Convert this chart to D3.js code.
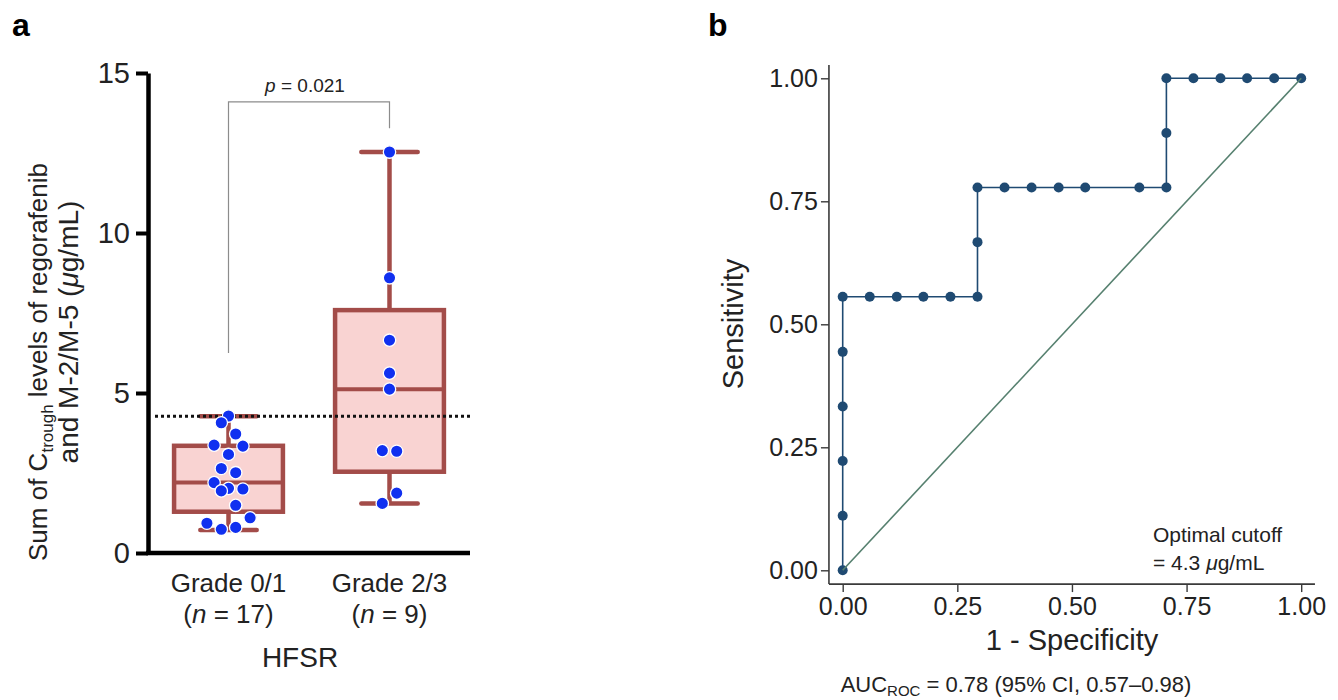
<!DOCTYPE html>
<html>
<head>
<meta charset="utf-8">
<script src="https://cdn.jsdelivr.net/npm/d3@7"></script>
<style>
  body { margin: 0; background: #fff; }
  text { font-family: "Liberation Sans", Arial, sans-serif; fill: #222; }
</style>
</head>
<body>
<script>

/////// Data ///////

// panel a : box plots of trough levels by HFSR grade
var groups = ["Grade 0/1", "Grade 2/3"];
var groupN = [17, 9];
var boxQ1 = [1.29, 2.54];
var boxMedian = [2.20, 5.12];
var boxQ3 = [3.35, 7.59];
var whiskerLow = [0.72, 1.55];
var whiskerHigh = [4.27, 12.53];
var cutoff = 4.27;

var grade01Values = [4.28, 4.07, 3.72, 3.37, 3.34, 3.08, 2.64, 2.51, 2.20, 2.02, 1.94, 2.00, 1.49, 1.10, 0.93, 0.74, 0.80];
var grade01Slots  = [0, -1, 1, -2, 2, 0, -1, 1, -2, 0, -1, 2, 1, 3, -3, -1, 1];
var grade23Values = [12.53, 8.60, 6.65, 5.62, 5.12, 3.20, 3.18, 1.87, 1.55];
var grade23Slots  = [0, 0, 0, 0, 0, -1, 1, 1, -1];

var yTicksA = [0, 5, 10, 15];
var bracketLevels = [6.25, 14.1, 13.27]; // left foot, top, right foot
var pLabel = "0.021";

// panel b : ROC curve
var fpr = [0, 0, 0, 0, 0, 0, 0.059, 0.118, 0.176, 0.235, 0.294, 0.294, 0.294,
           0.353, 0.412, 0.471, 0.529, 0.647, 0.706, 0.706, 0.706, 0.765, 0.824, 0.882, 0.941, 1];
var tpr = [0, 0.111, 0.222, 0.333, 0.444, 0.556, 0.556, 0.556, 0.556, 0.556, 0.556, 0.667, 0.778,
           0.778, 0.778, 0.778, 0.778, 0.778, 0.778, 0.889, 1, 1, 1, 1, 1, 1];
var rocTicks = [0, 0.25, 0.5, 0.75, 1];


/////// Svg ///////

var svg = d3.select("body").append("svg")
    .attr("width", 1338)
    .attr("height", 700);

var boxStroke = "#a34c49",
    boxFill = "#f9d3d2",
    dotBlue = "#1030f0",
    rocBlue = "#1f4a72",
    diagGreen = "#56806f";


/////// Panel a ///////

var xA = d3.scaleBand().domain(groups).range([148, 470]).padding(0);
var yA = d3.scaleLinear().domain([0, 15]).range([553, 73]);
var bw = xA.bandwidth();
function cx(i) { return xA(groups[i]) + bw / 2; }

svg.append("text")
    .attr("x", 12).attr("y", 36)
    .attr("font-size", "32px").attr("font-weight", "bold")
    .style("fill", "#000")
    .text("a");

// axes
var yAxisA = svg.append("g")
    .attr("transform", "translate(148,0)")
    .call(d3.axisLeft(yA).tickValues(yTicksA).tickSize(12).tickSizeOuter(0).tickPadding(6));
yAxisA.select(".domain").attr("stroke", "#000").attr("stroke-width", 4.5);
yAxisA.selectAll(".tick line").attr("stroke", "#000").attr("stroke-width", 4);
yAxisA.selectAll(".tick text").attr("font-size", "29px").attr("font-family", null).style("fill", "#222");

var xAxisA = svg.append("g")
    .attr("transform", "translate(0," + yA(0) + ")")
    .call(d3.axisBottom(xA).tickSize(0).tickSizeOuter(0).tickFormat(""));
xAxisA.select(".domain").attr("stroke", "#000").attr("stroke-width", 4.5)
    .attr("d", "M146,0H470");

// x labels
groups.forEach(function(g, i) {
    svg.append("text")
        .attr("x", cx(i)).attr("y", 592)
        .attr("text-anchor", "middle").attr("font-size", "26px")
        .text(g);
    var t = svg.append("text")
        .attr("x", cx(i)).attr("y", 623)
        .attr("text-anchor", "middle").attr("font-size", "26px");
    t.append("tspan").text("(");
    t.append("tspan").attr("font-style", "italic").text("n");
    t.append("tspan").text(" = " + groupN[i] + ")");
});

svg.append("text")
    .attr("x", 300).attr("y", 667)
    .attr("text-anchor", "middle").attr("font-size", "28px")
    .text("HFSR");

// y label (two lines, rotated)
var yl1 = svg.append("text")
    .attr("transform", "translate(47,362) rotate(-90)")
    .attr("text-anchor", "middle").attr("font-size", "26px");
yl1.append("tspan").text("Sum of C");
yl1.append("tspan").attr("font-size", "17px").attr("dy", 6).text("trough");
yl1.append("tspan").attr("dy", -6).text(" levels of regorafenib");

var yl2 = svg.append("text")
    .attr("transform", "translate(78,332) rotate(-90)")
    .attr("text-anchor", "middle").attr("font-size", "28px");
yl2.append("tspan").text("and M-2/M-5 (");
yl2.append("tspan").attr("font-style", "italic").text("\u03bc");
yl2.append("tspan").text("g/mL)");

// p-value bracket
var bracket = d3.line()
    .x(function(d) { return d[0]; })
    .y(function(d) { return d[1]; });
svg.append("path")
    .datum([[cx(0), yA(bracketLevels[0])], [cx(0), yA(bracketLevels[1])],
            [cx(1), yA(bracketLevels[1])], [cx(1), yA(bracketLevels[2])]])
    .attr("d", bracket)
    .attr("fill", "none").attr("stroke", "#8c8c8c").attr("stroke-width", 1.2);

var pt = svg.append("text")
    .attr("x", 305).attr("y", 92)
    .attr("text-anchor", "middle").attr("font-size", "19px");
pt.append("tspan").attr("font-style", "italic").text("p");
pt.append("tspan").text(" = " + pLabel);

// boxes
groups.forEach(function(g, i) {
    var c = cx(i), half = bw * 0.338, cap = bw * 0.175;
    var b = svg.append("g").attr("class", "box");
    b.append("line")
        .attr("x1", c).attr("x2", c).attr("y1", yA(whiskerLow[i])).attr("y2", yA(boxQ1[i]))
        .attr("stroke", boxStroke).attr("stroke-width", 4.5);
    b.append("line")
        .attr("x1", c).attr("x2", c).attr("y1", yA(boxQ3[i])).attr("y2", yA(whiskerHigh[i]))
        .attr("stroke", boxStroke).attr("stroke-width", 4.5);
    [whiskerLow[i], whiskerHigh[i]].forEach(function(v) {
        b.append("line")
            .attr("x1", c - cap).attr("x2", c + cap).attr("y1", yA(v)).attr("y2", yA(v))
            .attr("stroke", boxStroke).attr("stroke-width", 4.5).attr("stroke-linecap", "round");
    });
    b.append("rect")
        .attr("x", c - half).attr("width", half * 2)
        .attr("y", yA(boxQ3[i])).attr("height", yA(boxQ1[i]) - yA(boxQ3[i]))
        .attr("fill", boxFill).attr("stroke", boxStroke).attr("stroke-width", 4.5);
    b.append("line")
        .attr("x1", c - half).attr("x2", c + half).attr("y1", yA(boxMedian[i])).attr("y2", yA(boxMedian[i]))
        .attr("stroke", boxStroke).attr("stroke-width", 4);
});

// cutoff line
svg.append("line")
    .attr("x1", 155).attr("x2", 470)
    .attr("y1", yA(cutoff)).attr("y2", yA(cutoff))
    .attr("stroke", "#111").attr("stroke-width", 3).attr("stroke-dasharray", "3,3");

// points
var slotStep = 7.2;
[[grade01Values, grade01Slots], [grade23Values, grade23Slots]].forEach(function(s, i) {
    svg.append("g").selectAll("circle")
        .data(s[0])
        .enter().append("circle")
        .attr("cx", function(d, j) { return cx(i) + s[1][j] * slotStep; })
        .attr("cy", function(d) { return yA(d); })
        .attr("r", 6.2)
        .attr("fill", dotBlue)
        .attr("stroke", "#fff").attr("stroke-width", 1.3);
});


/////// Panel b ///////

var xB = d3.scaleLinear().domain([0, 1]).range([842.7, 1301.2]);
var yB = d3.scaleLinear().domain([0, 1]).range([570.3, 78.3]);
var fmt = d3.format(".2f");

svg.append("text")
    .attr("x", 708).attr("y", 36)
    .attr("font-size", "32px").attr("font-weight", "bold")
    .style("fill", "#000")
    .text("b");

var yAxisB = svg.append("g")
    .attr("transform", "translate(" + xB(-0.03) + ",0)")
    .call(d3.axisLeft(yB).tickValues(rocTicks).tickFormat(fmt).tickSize(8).tickSizeOuter(0).tickPadding(3));
yAxisB.select(".domain").attr("d", "M0," + yB(-0.028) + "V" + yB(1.027));

var xAxisB = svg.append("g")
    .attr("transform", "translate(0," + yB(-0.028) + ")")
    .call(d3.axisBottom(xB).tickValues(rocTicks).tickFormat(fmt).tickSize(8).tickSizeOuter(0).tickPadding(5));
xAxisB.select(".domain").attr("d", "M" + xB(-0.03) + ",0H" + xB(1.03));

[yAxisB, xAxisB].forEach(function(a) {
    a.select(".domain").attr("stroke", "#3a3a3a").attr("stroke-width", 1.6);
    a.selectAll(".tick line").attr("stroke", "#3a3a3a").attr("stroke-width", 1.4);
    a.selectAll(".tick text").attr("font-size", "25px").attr("font-family", null).style("fill", "#222");
});

svg.append("text")
    .attr("transform", "translate(743,324) rotate(-90)")
    .attr("text-anchor", "middle").attr("font-size", "29px")
    .text("Sensitivity");

svg.append("text")
    .attr("x", 1072).attr("y", 650)
    .attr("text-anchor", "middle").attr("font-size", "29px")
    .text("1 - Specificity");

// roc curve
var rocData = fpr.map(function(d, i) { return [d, tpr[i]]; });
var rocLine = d3.line()
    .x(function(d) { return xB(d[0]); })
    .y(function(d) { return yB(d[1]); });

svg.append("path")
    .datum(rocData)
    .attr("d", rocLine)
    .attr("fill", "none").attr("stroke", rocBlue).attr("stroke-width", 1.6);

svg.append("g").selectAll("circle")
    .data(rocData)
    .enter().append("circle")
    .attr("cx", function(d) { return xB(d[0]); })
    .attr("cy", function(d) { return yB(d[1]); })
    .attr("r", 5)
    .attr("fill", rocBlue);

svg.append("path")
    .datum([[0, 0], [1, 1]])
    .attr("d", rocLine)
    .attr("fill", "none").attr("stroke", diagGreen).attr("stroke-width", 1.6);

// annotations
svg.append("text")
    .attr("x", 1153).attr("y", 542)
    .attr("font-size", "21px")
    .text("Optimal cutoff");
var oc = svg.append("text")
    .attr("x", 1153).attr("y", 570)
    .attr("font-size", "21px");
oc.append("tspan").text("= 4.3 ");
oc.append("tspan").attr("font-style", "italic").text("\u03bc");
oc.append("tspan").text("g/mL");

var auc = svg.append("text")
    .attr("x", 1016).attr("y", 692)
    .attr("text-anchor", "middle").attr("font-size", "22px");
auc.append("tspan").text("AUC");
auc.append("tspan").attr("font-size", "15px").attr("dy", 4).text("ROC");
auc.append("tspan").attr("dy", -4).text(" = 0.78 (95% CI, 0.57\u20130.98)");

</script>
</body>
</html>
